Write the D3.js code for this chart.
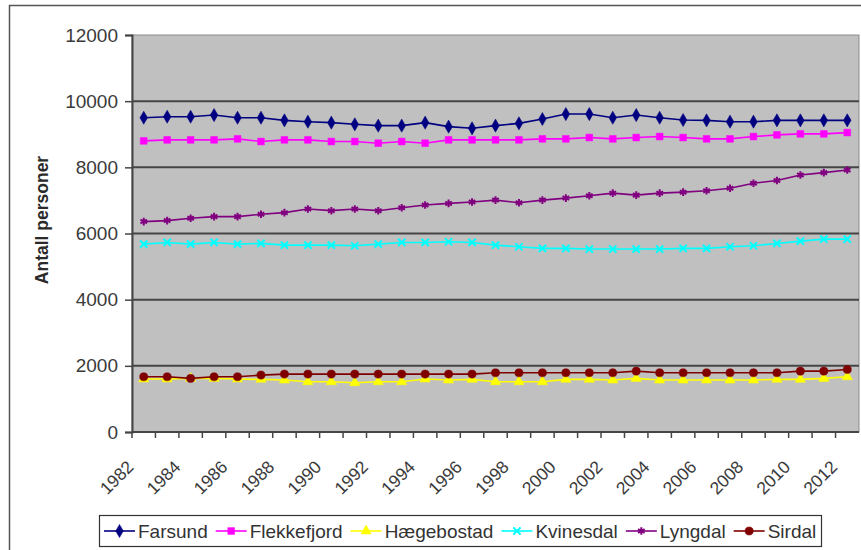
<!DOCTYPE html>
<html>
<head>
<meta charset="utf-8">
<script src="https://cdn.jsdelivr.net/npm/d3@7"></script>
<style>
  html, body { margin: 0; padding: 0; background: #ffffff; }
  svg { display: block; font-family: "Liberation Sans", Arial, sans-serif; }
</style>
</head>
<body>
<svg id="chart" width="861" height="550"></svg>
<script>
// Folkemengde per kommune, 1982–2012
const years = [1982, 1983, 1984, 1985, 1986, 1987, 1988, 1989, 1990, 1991,
               1992, 1993, 1994, 1995, 1996, 1997, 1998, 1999, 2000, 2001,
               2002, 2003, 2004, 2005, 2006, 2007, 2008, 2009, 2010, 2011, 2012];

const farsund     = [9500, 9530, 9530, 9580, 9500, 9500, 9420, 9380, 9350, 9300,
                     9260, 9260, 9350, 9230, 9180, 9260, 9330, 9460, 9610, 9610,
                     9500, 9580, 9500, 9430, 9420, 9380, 9380, 9420, 9420, 9420, 9420];
const flekkefjord = [8800, 8830, 8830, 8830, 8860, 8780, 8830, 8830, 8780, 8780,
                     8730, 8780, 8730, 8830, 8830, 8830, 8830, 8860, 8860, 8900,
                     8860, 8900, 8930, 8900, 8860, 8860, 8930, 8980, 9010, 9010, 9050];
const haegebostad = [1600, 1600, 1620, 1620, 1600, 1590, 1570, 1520, 1520, 1490,
                     1520, 1520, 1600, 1570, 1590, 1520, 1520, 1520, 1590, 1590,
                     1570, 1620, 1570, 1570, 1570, 1570, 1570, 1590, 1590, 1620, 1670];
const kvinesdal   = [5680, 5730, 5680, 5730, 5680, 5700, 5650, 5650, 5650, 5630,
                     5680, 5730, 5730, 5750, 5730, 5650, 5600, 5550, 5550, 5530,
                     5530, 5530, 5530, 5550, 5550, 5600, 5630, 5700, 5770, 5830, 5830];
const lyngdal     = [6360, 6390, 6460, 6510, 6510, 6580, 6630, 6740, 6690, 6740,
                     6690, 6780, 6860, 6910, 6950, 7010, 6930, 7010, 7070, 7140,
                     7220, 7160, 7220, 7250, 7290, 7370, 7520, 7600, 7770, 7840, 7920];
const sirdal      = [1670, 1670, 1620, 1670, 1670, 1720, 1750, 1750, 1750, 1750,
                     1750, 1750, 1750, 1750, 1750, 1790, 1790, 1790, 1790, 1790,
                     1790, 1840, 1790, 1790, 1790, 1790, 1790, 1790, 1840, 1840, 1890];

const seriesNames = ["Farsund", "Flekkefjord", "Hægebostad", "Kvinesdal", "Lyngdal", "Sirdal"];
const seriesValues = [farsund, flekkefjord, haegebostad, kvinesdal, lyngdal, sirdal];
const yTicks = [0, 2000, 4000, 6000, 8000, 10000, 12000];
const yTitle = "Antall personer";

// Excel-style colours and marker shapes for each municipality
const colors = ["#000080", "#ff00ff", "#ffff00", "#00ffff", "#800080", "#800000"];
const symbols = [
  { type: d3.symbolDiamond, size: 50, filled: true },
  { type: d3.symbolSquare, size: 46, filled: true },
  { type: d3.symbolTriangle, size: 46, filled: true },
  { type: d3.symbolX, size: 36, filled: false },
  { type: d3.symbolAsterisk, size: 40, filled: false },
  { type: d3.symbolCircle, size: 52, filled: true }
];

const svg = d3.select("#chart");
const plot = { left: 132, right: 859, top: 35, bottom: 432 };

// Chart area frame
svg.append("rect")
  .attr("x", 9.5).attr("y", 5.5)
  .attr("width", 900).attr("height", 600)
  .attr("fill", "#ffffff").attr("stroke", "#555").attr("stroke-width", 1.5);

const x = d3.scaleBand().domain(years).range([plot.left, plot.right]).paddingInner(0).paddingOuter(0);
const y = d3.scaleLinear().domain([0, 12000]).range([plot.bottom, plot.top]);
const cx = d => x(d) + x.bandwidth() / 2;

// Plot area background
svg.append("rect")
  .attr("x", plot.left).attr("y", plot.top)
  .attr("width", plot.right - plot.left).attr("height", plot.bottom - plot.top)
  .attr("fill", "#c0c0c0").attr("stroke", "#8c8c8c").attr("stroke-width", 1);

// Horizontal gridlines
svg.append("g")
  .selectAll("line")
  .data(yTicks.filter(v => v > 0 && v < 12000))
  .join("line")
  .attr("x1", plot.left).attr("x2", plot.right)
  .attr("y1", d => y(d)).attr("y2", d => y(d))
  .attr("stroke", "#454545").attr("stroke-width", 2);

// Y axis
const yAxis = svg.append("g")
  .attr("transform", `translate(${plot.left},0)`)
  .call(d3.axisLeft(y).tickValues(yTicks).tickSize(7).tickPadding(7).tickFormat(d3.format("d")));
yAxis.select(".domain").attr("stroke", "#454545").attr("stroke-width", 2);
yAxis.selectAll(".tick line").attr("stroke", "#454545").attr("stroke-width", 1.5);
yAxis.selectAll(".tick text")
  .attr("fill", "#3a3a3a").style("font-size", "19px");

// X axis: ticks on category boundaries, labels every second year
const xAxis = svg.append("g").attr("transform", `translate(0,${plot.bottom})`);
xAxis.append("line")
  .attr("x1", plot.left).attr("x2", plot.right)
  .attr("y1", 0).attr("y2", 0)
  .attr("stroke", "#454545").attr("stroke-width", 2);
xAxis.selectAll("line.tick")
  .data(years)
  .join("line")
  .attr("class", "tick")
  .attr("x1", d => x(d)).attr("x2", d => x(d))
  .attr("y1", 0).attr("y2", 6)
  .attr("stroke", "#454545").attr("stroke-width", 1.5);
xAxis.selectAll("text")
  .data(years.filter((d, i) => i % 2 === 0))
  .join("text")
  .attr("transform", d => `translate(${cx(d) - 9},${36}) rotate(-45)`)
  .attr("text-anchor", "end")
  .attr("fill", "#3a3a3a")
  .style("font-size", "17.5px")
  .text(d => d);

// Y axis title
svg.append("text")
  .attr("transform", `translate(48,220) rotate(-90)`)
  .attr("text-anchor", "middle")
  .attr("fill", "#2a2a2a")
  .style("font-size", "17.5px").style("font-weight", "bold")
  .text(yTitle);

// Series lines and markers
const line = d3.line().x((d, i) => cx(years[i])).y(d => y(d));
const symbolPath = (s) => d3.symbol().type(s.type).size(s.size)();

seriesValues.forEach((vals, k) => {
  const g = svg.append("g");
  g.append("path")
    .datum(vals)
    .attr("d", line)
    .attr("fill", "none")
    .attr("stroke", colors[k])
    .attr("stroke-width", 1.6);
  g.selectAll("path.m")
    .data(vals)
    .join("path")
    .attr("class", "m")
    .attr("d", symbolPath(symbols[k]))
    .attr("transform", (d, i) => `translate(${cx(years[i])},${y(d)})`)
    .attr("fill", symbols[k].filled ? colors[k] : "none")
    .attr("stroke", colors[k])
    .attr("stroke-width", symbols[k].filled ? 0.5 : 2);
});

// Legend
const legend = svg.append("g");
legend.append("rect")
  .attr("x", 99.5).attr("y", 515.5)
  .attr("width", 722).attr("height", 31)
  .attr("fill", "#ffffff").attr("stroke", "#333").attr("stroke-width", 1.2);

let lx = 104;
seriesNames.forEach((name, k) => {
  const item = legend.append("g");
  item.append("line")
    .attr("x1", lx).attr("x2", lx + 31)
    .attr("y1", 531).attr("y2", 531)
    .attr("stroke", colors[k]).attr("stroke-width", 1.6);
  item.append("path")
    .attr("d", symbolPath(symbols[k]))
    .attr("transform", `translate(${lx + 15.5},531)`)
    .attr("fill", symbols[k].filled ? colors[k] : "none")
    .attr("stroke", colors[k])
    .attr("stroke-width", symbols[k].filled ? 0.5 : 2);
  const t = item.append("text")
    .attr("x", lx + 34).attr("y", 538)
    .attr("fill", "#333")
    .style("font-size", "19px")
    .text(name);
  lx += 34 + t.node().getComputedTextLength() + 8;
});
</script>
</body>
</html>
